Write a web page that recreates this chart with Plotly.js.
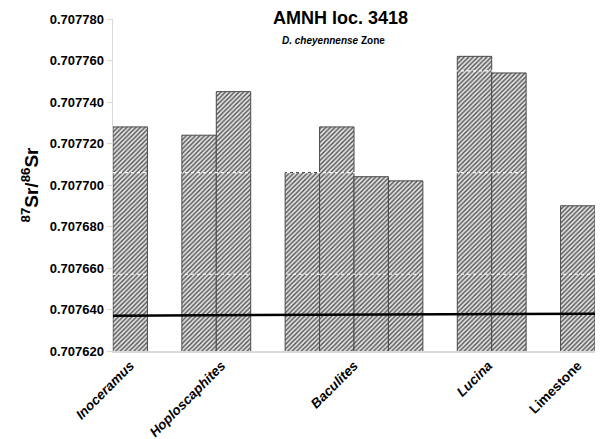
<!DOCTYPE html>
<html>
<head>
<meta charset="utf-8">
<script src="https://cdn.plot.ly/plotly-3.0.1.min.js"></script>
<style>
  html, body { margin: 0; padding: 0; background: #fff; }
  #chart { width: 600px; height: 439px; }
</style>
</head>
<body>
<div id="chart"></div>
<script>
// bar slots along the x axis (gaps between sample groups are empty slots)
const barSlots = [0, 2, 3, 5, 6, 7, 8, 10, 11, 13];
const barValues = [0.707728, 0.707724, 0.707745, 0.707706, 0.707728, 0.707704, 0.707702, 0.707762, 0.707754, 0.707690];

// category labels and where they sit on the slot axis
const groupLabels = ['<i>Inoceramus</i>', '<i>Hoploscaphites</i>', '<i>Baculites</i>', '<i>Lucina</i>', 'Limestone'];
const groupTicks = [0, 2.65, 6.5, 10.4, 13];

// reference seawater line (left end, right end)
const seawaterLine = [0.707637, 0.707638];
// white dotted levels seen across the bars
const dottedLevels = [0.707755, 0.707706, 0.707657];

const font = 'Liberation Sans, Arial, sans-serif';

const bars = {
    type: 'bar',
    x: barSlots,
    y: barValues,
    width: 1,
    marker: {
        color: '#d0d0d0',
        line: { color: '#4a4a4a', width: 1 },
        pattern: { shape: '/', size: 3.2, solidity: 0.4, fgcolor: '#4a4a4a', bgcolor: '#e2e2e2' }
    },
    hoverinfo: 'y',
    showlegend: false
};

const dotted = dottedLevels.map(v => ({
    type: 'scatter',
    mode: 'lines',
    x: [0, 1],
    y: [v, v],
    xaxis: 'x2',
    line: { color: '#ffffff', width: 1.2, dash: 'dot' },
    hoverinfo: 'skip',
    showlegend: false
}));

const line = {
    type: 'scatter',
    mode: 'lines',
    x: [0, 1],
    y: seawaterLine,
    xaxis: 'x2',
    line: { color: '#000000', width: 2.5 },
    hoverinfo: 'skip',
    showlegend: false
};

const layout = {
    width: 600,
    height: 439,
    margin: { l: 113, r: 5, t: 19, b: 88 },
    paper_bgcolor: '#ffffff',
    plot_bgcolor: '#ffffff',
    bargap: 0,
    font: { family: font, color: '#000000' },
    xaxis: {
        range: [-0.5, 13.5],
        tickvals: groupTicks,
        ticktext: groupLabels,
        tickangle: -45,
        ticks: '',
        showgrid: false,
        zeroline: false,
        showline: true,
        linecolor: '#d9d9d9',
        linewidth: 1.5,
        tickfont: { family: font, size: 13.5, weight: 'bold' }
    },
    xaxis2: {
        range: [0, 1],
        overlaying: 'x',
        visible: false
    },
    yaxis: {
        range: [0.707620, 0.707780],
        dtick: 0.00002,
        tick0: 0.70762,
        tickformat: '.6f',
        ticks: 'outside',
        ticklen: 5,
        tickcolor: '#d9d9d9',
        showgrid: false,
        zeroline: false,
        showline: true,
        linecolor: '#d9d9d9',
        linewidth: 1.5,
        tickfont: { family: font, size: 13, weight: 'bold' },
        title: {
            text: '<sup>87</sup>Sr/<sup>86</sup>Sr',
            font: { family: font, size: 19, weight: 'bold' },
            standoff: 6
        }
    },
    annotations: [
        {
            text: 'AMNH loc. 3418',
            xref: 'paper', yref: 'paper',
            x: 0.471, y: 1.0,
            xanchor: 'center', yanchor: 'middle',
            yshift: 1,
            showarrow: false,
            font: { family: font, size: 18, weight: 'bold' }
        },
        {
            text: '<i>D. cheyennense</i> Zone',
            xref: 'paper', yref: 'paper',
            x: 0.458, y: 1.0,
            xanchor: 'center', yanchor: 'middle',
            yshift: -21,
            showarrow: false,
            font: { family: font, size: 10, weight: 'bold' }
        }
    ]
};

Plotly.newPlot('chart', [bars].concat(dotted, [line]), layout, { displayModeBar: false, staticPlot: true });
</script>
</body>
</html>
